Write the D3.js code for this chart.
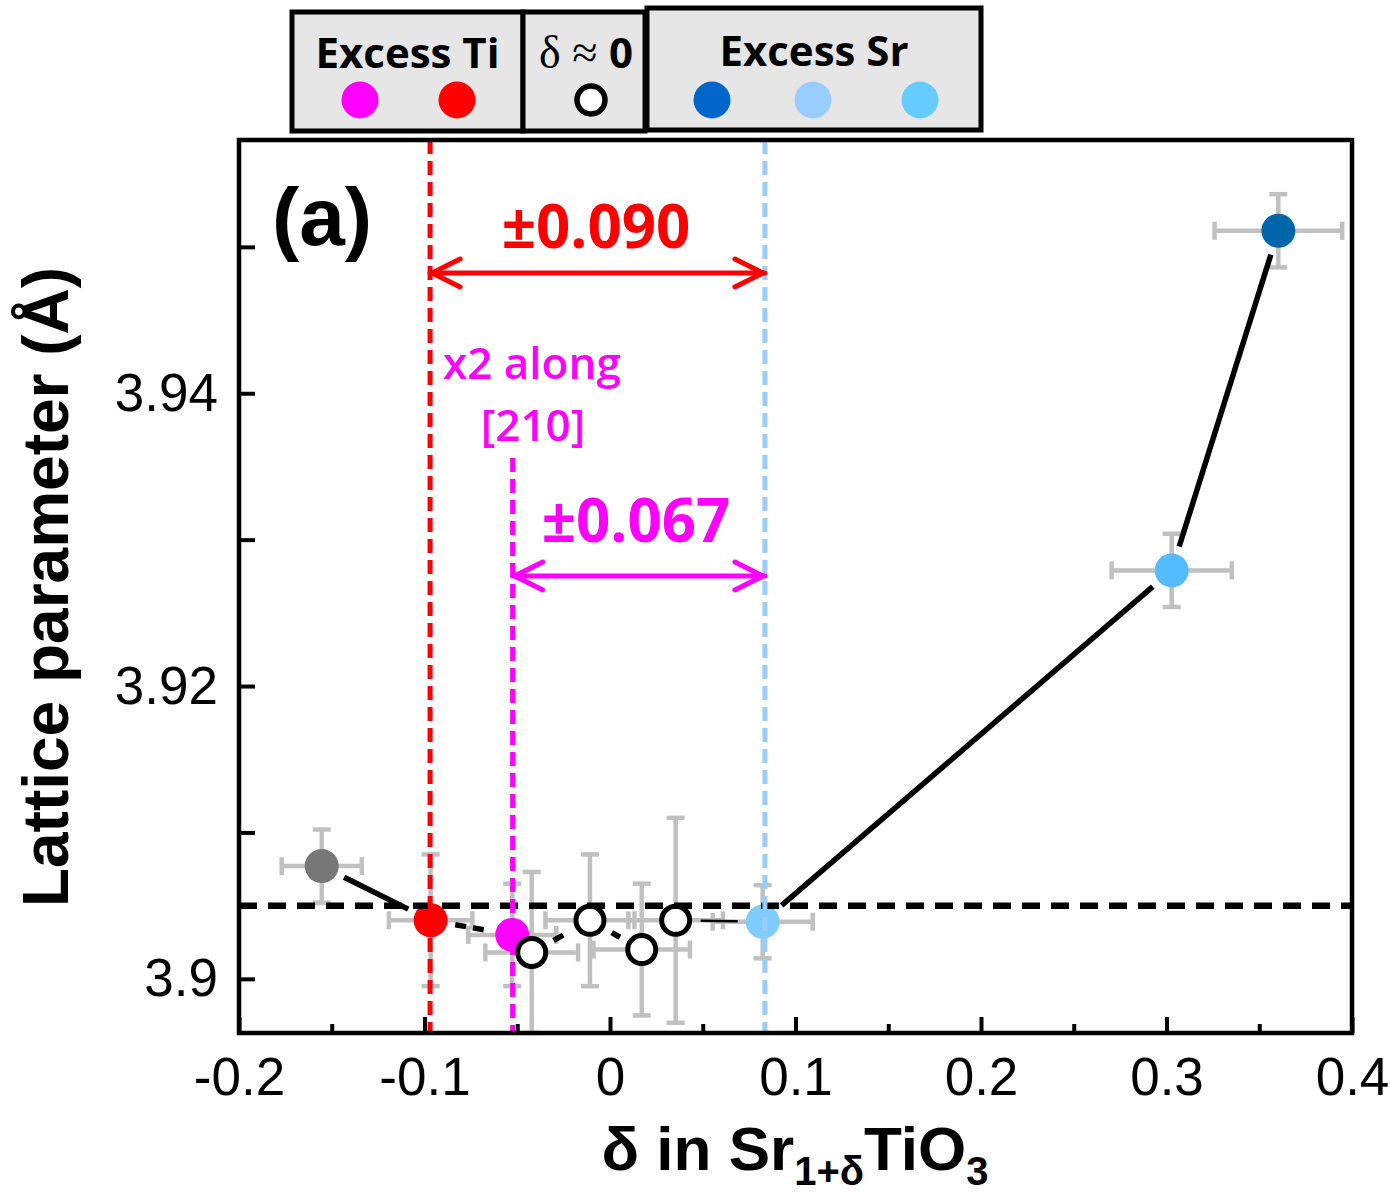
<!DOCTYPE html>
<html>
<head>
<meta charset="utf-8">
<script src="https://cdn.jsdelivr.net/npm/d3@7"></script>
<style>
  body { margin: 0; background: #fff; }
  svg text { fill: #000; }
</style>
</head>
<body>
<svg id="chart"></svg>
<script>
// values
const delta      = [-0.1554, -0.0967, -0.0527, -0.0422, -0.0108, 0.0171, 0.0354, 0.0823, 0.3028, 0.3603];
const lattice    = [3.9077, 3.9040, 3.9030, 3.9018, 3.9040, 3.9020, 3.9040, 3.9039, 3.9279, 3.9511];
const deltaErr   = [0.0216, 0.0225, 0.0237, 0.0250, 0.0240, 0.0260, 0.0255, 0.0270, 0.0324, 0.0344];
const latticeErr = [0.0025, 0.0045, 0.0035, 0.0055, 0.0045, 0.0045, 0.0070, 0.0025, 0.0025, 0.0025];
const sampleKind = ["ref", "Ti", "Ti", "zero", "zero", "zero", "zero", "Sr", "Sr", "Sr"];

const xTicks = [-0.2, -0.1, 0, 0.1, 0.2, 0.3, 0.4];
const yTicks = [3.90, 3.92, 3.94];

const legendGroups = ["Excess Ti", "δ ≈ 0", "Excess Sr"];
const legendKinds  = [["Ti-x2", "Ti"], ["zero"], ["Sr-dark", "Sr-light", "Sr-mid"]];

const refLattice = 3.905;     // horizontal dashed line
const tiLimit = -0.097;       // red dashed line
const x2Limit = -0.0525;      // magenta dashed line
const srLimit = 0.0835;       // light blue dashed line
const windowLabels = ["±0.090", "±0.067"];

// styles
let markerFill = ["#777777", "#ff0000", "#ff00ff", "#fff", "#fff", "#fff", "#fff", "#80ccff", "#55bbff", "#0066aa"];
let legendFill = { "Ti-x2": "#ff00ff", "Ti": "#ff0000", "zero": "#fff",
                   "Sr-dark": "#0066cc", "Sr-light": "#99ccff", "Sr-mid": "#66ccff" };
// connector between point i and i+1
let segStyle = ["solid", "dash", "dash", "dash", "dash", "dash", "thin", "solid", "solid"];

let width = 1391, height = 1193;
let mLeft = 239, mRight = 1352, mTop = 140, mBottom = 1033;

let svg = d3.select('#chart')
    .attr('width', width)
    .attr('height', height)
    .style('font-family', '"Liberation Sans", Arial, sans-serif');

let x = d3.scaleLinear().domain([-0.2, 0.4]).range([mLeft, mRight]);
let y = d3.scaleLinear().domain([3.8963, 3.9573]).range([mBottom, mTop]);

let pts = delta.map((d, i) => ({
  x: d, y: lattice[i], ex: deltaErr[i], ey: latticeErr[i], kind: sampleKind[i], fill: markerFill[i]
}));

// error bars
let eb = svg.append('g')
    .attr('stroke', '#c0c0c0')
    .attr('stroke-width', 4.5);
let cap = 9;
pts.forEach(p => {
  let cx = x(p.x), cy = y(p.y);
  let x0 = x(p.x - p.ex), x1 = x(p.x + p.ex);
  let y0 = y(p.y + p.ey), y1 = y(p.y - p.ey);
  eb.append('line').attr('x1', x0).attr('x2', x1).attr('y1', cy).attr('y2', cy);
  eb.append('line').attr('x1', cx).attr('x2', cx).attr('y1', y0).attr('y2', y1);
  eb.append('line').attr('x1', x0).attr('x2', x0).attr('y1', cy - cap).attr('y2', cy + cap);
  eb.append('line').attr('x1', x1).attr('x2', x1).attr('y1', cy - cap).attr('y2', cy + cap);
  eb.append('line').attr('x1', cx - cap).attr('x2', cx + cap).attr('y1', y0).attr('y2', y0);
  eb.append('line').attr('x1', cx - cap).attr('x2', cx + cap).attr('y1', y1).attr('y2', y1);
});

// connecting line, kept clear of the markers
let gap = 25;
let conn = svg.append('g').attr('stroke', '#000').attr('fill', 'none');
d3.pairs(pts).forEach(([a, b], i) => {
  let ax = x(a.x), ay = y(a.y), bx = x(b.x), by = y(b.y);
  let len = Math.hypot(bx - ax, by - ay);
  if (len <= 2 * gap) return;
  let ux = (bx - ax) / len, uy = (by - ay) / len;
  conn.append('line')
      .attr('x1', ax + ux * gap).attr('y1', ay + uy * gap)
      .attr('x2', bx - ux * gap).attr('y2', by - uy * gap)
      .attr('stroke-width', segStyle[i] === 'thin' ? 2.5 : 5.5)
      .attr('stroke-dasharray', segStyle[i] === 'dash' ? '11,7' : null);
});

// markers
svg.append('g').selectAll('circle')
    .data(pts)
  .enter().append('circle')
    .attr('cx', d => x(d.x))
    .attr('cy', d => y(d.y))
    .attr('r', d => d.kind === 'zero' ? 14 : 17)
    .attr('fill', d => d.fill)
    .attr('stroke', d => d.kind === 'zero' ? '#000' : 'none')
    .attr('stroke-width', 5);

// reference lines
svg.append('line')
    .attr('x1', mLeft).attr('x2', mRight)
    .attr('y1', y(refLattice)).attr('y2', y(refLattice))
    .attr('stroke', '#000').attr('stroke-width', 6.5)
    .attr('stroke-dasharray', '18,11');

let vlines = [
  { v: tiLimit, color: '#ff0000', y0: mTop },
  { v: x2Limit, color: '#ff00ff', y0: 458 },
  { v: srLimit, color: '#99ccff', y0: mTop }
];
vlines.forEach(l => {
  svg.append('line')
      .attr('x1', x(l.v)).attr('x2', x(l.v))
      .attr('y1', l.y0).attr('y2', mBottom)
      .attr('stroke', l.color).attr('stroke-width', 5)
      .attr('stroke-dasharray', '14,7');
});

// double arrows for the stoichiometry window
function dblArrow(x0, x1, yy, color) {
  let g = svg.append('g').attr('stroke', color).attr('stroke-width', 5)
      .attr('fill', 'none').attr('stroke-linecap', 'round').attr('stroke-linejoin', 'round');
  g.append('line').attr('x1', x0).attr('x2', x1).attr('y1', yy).attr('y2', yy);
  g.append('path').attr('d', `M${x0 + 30},${yy - 14} L${x0 + 2},${yy} L${x0 + 30},${yy + 14}`);
  g.append('path').attr('d', `M${x1 - 30},${yy - 14} L${x1 - 2},${yy} L${x1 - 30},${yy + 14}`);
}
dblArrow(x(tiLimit), x(srLimit), 273, '#ff0000');
dblArrow(x(x2Limit), x(srLimit), 576, '#ff00ff');

let calibri = '"Open Sans", "Noto Sans", sans-serif';
svg.append('text')
    .attr('x', 596).attr('y', 248)
    .attr('text-anchor', 'middle')
    .style('font-family', calibri).style('font-weight', 700).style('font-size', '60px')
    .style('fill', '#ff0000')
    .text(windowLabels[0]);
svg.append('text')
    .attr('x', 636).attr('y', 542)
    .attr('text-anchor', 'middle')
    .style('font-family', calibri).style('font-weight', 700).style('font-size', '60px')
    .style('fill', '#ff00ff')
    .text(windowLabels[1]);
svg.append('text')
    .attr('x', 443).attr('y', 379)
    .style('font-family', calibri).style('font-weight', 600).style('font-size', '44px')
    .style('fill', '#ff00ff')
    .text('x2 along');
svg.append('text')
    .attr('x', 533).attr('y', 441)
    .attr('text-anchor', 'middle')
    .style('font-family', calibri).style('font-weight', 600).style('font-size', '44px')
    .style('fill', '#ff00ff')
    .text('[210]');

svg.append('text')
    .attr('x', 322).attr('y', 245)
    .attr('text-anchor', 'middle')
    .style('font-weight', 700).style('font-size', '82px')
    .text('(a)');

// axes, ticks pointing inward
let fmt = d => String(d);
svg.append('g')
    .attr('transform', `translate(0,${mBottom})`)
    .call(d3.axisBottom(x).tickValues(xTicks).tickFormat(fmt).tickSizeInner(-16).tickSizeOuter(0).tickPadding(24));
svg.append('g')
    .attr('transform', `translate(0,${mBottom})`)
    .call(d3.axisBottom(x).tickValues(d3.range(-0.15, 0.4, 0.1)).tickFormat('').tickSizeInner(-9).tickSizeOuter(0));
svg.append('g')
    .attr('transform', `translate(${mLeft},0)`)
    .call(d3.axisLeft(y).tickValues(yTicks).tickFormat(fmt).tickSizeInner(-16).tickSizeOuter(0).tickPadding(21));
svg.append('g')
    .attr('transform', `translate(${mLeft},0)`)
    .call(d3.axisLeft(y).tickValues([3.91, 3.93, 3.95]).tickFormat('').tickSizeInner(-16).tickSizeOuter(0));

svg.selectAll('.domain').remove();
svg.selectAll('.tick line').attr('stroke', '#000').attr('stroke-width', 4);
svg.selectAll('.tick text')
    .style('font-family', '"Liberation Sans", Arial, sans-serif')
    .style('font-size', '53px')
    .attr('fill', '#000');

svg.append('rect')
    .attr('x', mLeft).attr('y', mTop)
    .attr('width', mRight - mLeft).attr('height', mBottom - mTop)
    .attr('fill', 'none').attr('stroke', '#000').attr('stroke-width', 4.5);

// axis titles
let xt = svg.append('text')
    .attr('x', 795).attr('y', 1170)
    .attr('text-anchor', 'middle')
    .style('font-weight', 700).style('font-size', '62px');
xt.append('tspan').text('δ in Sr');
xt.append('tspan').attr('dy', 15).style('font-size', '40px').text('1+δ');
xt.append('tspan').attr('dy', -15).text('TiO');
xt.append('tspan').attr('dy', 15).style('font-size', '40px').text('3');

svg.append('text')
    .attr('transform', 'translate(68,587) rotate(-90)')
    .attr('text-anchor', 'middle')
    .style('font-weight', 700).style('font-size', '64px')
    .text('Lattice parameter (Å)');

// legend boxes across the top
let boxes = [
  { x0: 292, x1: 523, y0: 12, y1: 131, cx: [360, 457] },
  { x0: 523, x1: 645, y0: 12, y1: 131, cx: [591] },
  { x0: 647, x1: 981, y0: 8,  y1: 130, cx: [712, 813, 920] }
];
let lg = svg.append('g');
boxes.forEach((b, i) => {
  lg.append('rect')
      .attr('x', b.x0).attr('y', b.y0)
      .attr('width', b.x1 - b.x0).attr('height', b.y1 - b.y0)
      .attr('fill', '#e6e6e6').attr('stroke', '#000').attr('stroke-width', 5);
  let t = lg.append('text')
      .attr('x', (b.x0 + b.x1) / 2 + (i === 1 ? 2 : 0)).attr('y', i === 2 ? 66 : 68)
      .attr('text-anchor', 'middle')
      .style('font-family', calibri).style('font-weight', 700).style('font-size', '42px');
  if (i === 1) {
    t.append('tspan').style('font-family', '"Liberation Serif", serif').style('font-weight', 400)
        .style('font-size', '46px').text('δ ≈ ');
    t.append('tspan').text('0');
  } else {
    t.text(legendGroups[i]);
  }
  legendKinds[i].forEach((k, j) => {
    lg.append('circle')
        .attr('cx', b.cx[j]).attr('cy', 100)
        .attr('r', k === 'zero' ? 14 : 18.5)
        .attr('fill', legendFill[k])
        .attr('stroke', k === 'zero' ? '#000' : 'none')
        .attr('stroke-width', 5.5);
  });
});
</script>
</body>
</html>
